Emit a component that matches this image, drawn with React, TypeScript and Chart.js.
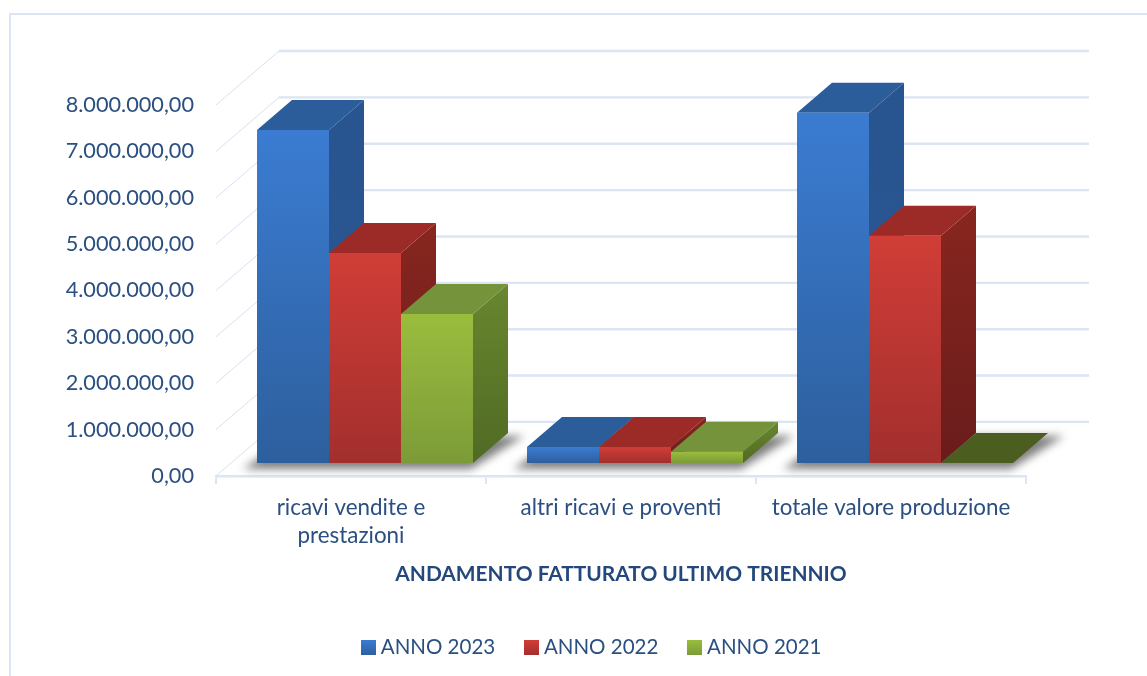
import React, { useEffect, useRef } from "react";
import { Chart, registerables } from "chart.js";

Chart.register(...registerables);

const categories = [["ricavi vendite e", "prestazioni"], "altri ricavi e proventi", "totale valore produzione"];
const seriesNames = ["ANNO 2023", "ANNO 2022", "ANNO 2021"];
const anno2023 = [7180000, 345000, 7550000];
const anno2022 = [4530000, 345000, 4900000];
const anno2021 = [3210000, 240000, 0];
const seriesValues = [anno2023, anno2022, anno2021];

const frontColors = [["#3b7cd2", "#2d5f9d"], ["#d13d37", "#a22f2d"], ["#9abd3e", "#7c9b38"]];
const sideColors = [["#28548f", "#2a5793"], ["#88261f", "#691c1b"], ["#68872f", "#506a24"]];
const topColors = ["#2c5d9b", "#9c2b27", "#75933a"];
const flatColors = ["#2c5d9b", "#9c2b27", "#4b5e20"];

const TEXT = "#2a4f80";
const LINE = "#dbe5f3";
const WALL_DX = 63;
const WALL_DY = 54;
const BAR_DX = 35;
const BAR_DY = 30;
const BAR_SHIFT_X = 14;
const BAR_SHIFT_Y = 13;
const LEGEND_LEFT = 161;

function legendSwatch(colors: string[]) {
  const c = document.createElement("canvas");
  c.width = 15;
  c.height = 15;
  const g = c.getContext("2d")!;
  const grad = g.createLinearGradient(0, 0, 0, 15);
  grad.addColorStop(0, colors[0]);
  grad.addColorStop(1, colors[1]);
  g.fillStyle = grad;
  g.fillRect(0, 0, 15, 15);
  return c;
}

function drawBarFaces(chart: any, di: number) {
  const { ctx } = chart;
  chart.getDatasetMeta(di).data.forEach((bar: any) => {
    const l = bar.x - bar.width / 2;
    const r = bar.x + bar.width / 2;
    const t = bar.y;
    const b = bar.base;
    if (b - t > 0.5) {
      const grad = ctx.createLinearGradient(0, t - BAR_DY, 0, b);
      grad.addColorStop(0, sideColors[di][0]);
      grad.addColorStop(1, sideColors[di][1]);
      ctx.fillStyle = grad;
      ctx.beginPath();
      ctx.moveTo(r, t);
      ctx.lineTo(r + BAR_DX, t - BAR_DY);
      ctx.lineTo(r + BAR_DX, b - BAR_DY);
      ctx.lineTo(r, b);
      ctx.closePath();
      ctx.fill();
    }
    ctx.fillStyle = b - t > 0.5 ? topColors[di] : flatColors[di];
    ctx.beginPath();
    ctx.moveTo(l, t);
    ctx.lineTo(l + BAR_DX, t - BAR_DY);
    ctx.lineTo(r + BAR_DX, t - BAR_DY);
    ctx.lineTo(r, t);
    ctx.closePath();
    ctx.fill();
  });
}

const scene3d = {
  id: "scene3d",
  afterLayout(chart: any) {
    // the legend is centred under the whole picture's content, not under the plot
    if (chart.legend) chart.legend.left = LEGEND_LEFT;
  },
  beforeDraw(chart: any) {
    const { ctx, width, height } = chart;
    ctx.save();
    ctx.fillStyle = "#fff";
    ctx.fillRect(0, 0, width, height);
    ctx.strokeStyle = LINE;
    ctx.lineWidth = 2;
    ctx.beginPath();
    ctx.moveTo(10, height);
    ctx.lineTo(10, 14);
    ctx.lineTo(width, 14);
    ctx.stroke();
    ctx.restore();
  },
  beforeDatasetsDraw(chart: any) {
    const { ctx, chartArea, scales } = chart;
    ctx.save();
    for (const t of scales.y.ticks) {
      const y = scales.y.getPixelForValue(t.value);
      ctx.strokeStyle = "#d7e2f1";
      ctx.lineWidth = 1;
      ctx.beginPath();
      ctx.moveTo(chartArea.left, y);
      ctx.lineTo(chartArea.left + WALL_DX, y - WALL_DY);
      ctx.stroke();
      ctx.strokeStyle = LINE;
      ctx.lineWidth = 2.4;
      ctx.beginPath();
      ctx.moveTo(chartArea.left + WALL_DX, y - WALL_DY);
      ctx.lineTo(chartArea.right + WALL_DX, y - WALL_DY);
      ctx.stroke();
    }
    ctx.restore();

    ctx.save();
    ctx.translate(BAR_SHIFT_X, -BAR_SHIFT_Y);
    const first = chart.getDatasetMeta(0).data;
    const last = chart.getDatasetMeta(seriesValues.length - 1).data;
    ctx.save();
    ctx.filter = "blur(4px)";
    ctx.fillStyle = "rgba(95,95,95,0.8)";
    first.forEach((bar: any, i: number) => {
      const l = bar.x - bar.width / 2;
      const r = last[i].x + last[i].width / 2;
      const b = bar.base;
      ctx.beginPath();
      ctx.moveTo(l - 14, b + 6);
      ctx.lineTo(r - 2, b + 6);
      ctx.lineTo(r + BAR_DX + 16, b - BAR_DY + 3);
      ctx.lineTo(l + BAR_DX, b - BAR_DY + 3);
      ctx.closePath();
      ctx.fill();
    });
    ctx.restore();

    // left-to-right painter's order: each bar hides the side of the one before it
    seriesValues.forEach((_, di) => {
      drawBarFaces(chart, di);
      chart.getDatasetMeta(di).controller.draw();
    });
    ctx.restore();
    return false;
  },
};

export default function App() {
  const ref = useRef<HTMLCanvasElement>(null);
  useEffect(() => {
    document.body.style.margin = "0";
    const chart = new Chart(ref.current!, {
      type: "bar",
      data: {
        labels: categories as any,
        datasets: seriesNames.map((name, di) => ({
          label: name,
          data: seriesValues[di],
          borderWidth: 0,
          categoryPercentage: 0.8,
          barPercentage: 1,
          backgroundColor: (c: any) => {
            if (c.type !== "data" || !c.chart.chartArea) return frontColors[di][0];
            const y = c.chart.scales.y;
            const grad = c.chart.ctx.createLinearGradient(0, y.getPixelForValue(c.raw), 0, y.getPixelForValue(0));
            grad.addColorStop(0, frontColors[di][0]);
            grad.addColorStop(1, frontColors[di][1]);
            return grad;
          },
        })),
      },
      options: {
        responsive: false,
        animation: false,
        layout: { padding: { left: 0, right: 121, top: 105, bottom: 10 } },
        plugins: {
          tooltip: { enabled: false },
          title: {
            display: true,
            position: "bottom",
            fullSize: false,
            weight: 1000,
            text: "ANDAMENTO FATTURATO ULTIMO TRIENNIO",
            color: "#24487c",
            font: { family: "Lato", size: 20.9, weight: "bold" },
            padding: { top: 5.5, bottom: 17.5 },
          },
          legend: {
            position: "bottom",
            weight: 3000,
            maxHeight: 62,
            labels: {
              color: TEXT,
              font: { family: "Lato", size: 20.5 },
              usePointStyle: true,
              pointStyleWidth: 5,
              boxHeight: 15,
              padding: 33.5,
              generateLabels: () =>
                seriesNames.map((name, di) => ({
                  text: name,
                  datasetIndex: di,
                  fontColor: TEXT,
                  pointStyle: legendSwatch(frontColors[di]),
                  lineWidth: 0,
                })),
            },
          },
        } as any,
        scales: {
          x: {
            offset: true,
            border: { color: LINE, width: 2.4 },
            grid: { drawOnChartArea: false, color: LINE, lineWidth: 2, tickLength: 8, offset: true },
            ticks: {
              color: TEXT,
              font: { family: "Lato", size: 22.4, lineHeight: 1.25 },
              padding: 10,
              maxRotation: 0,
              autoSkip: false,
            },
            afterFit: (s: any) => { s.height = 80; },
          },
          y: {
            min: 0,
            max: 8000000,
            border: { display: false },
            grid: { display: false },
            ticks: {
              stepSize: 1000000,
              color: TEXT,
              padding: 14,
              font: { family: "Lato", size: 21.7 },
              callback: (v: any) =>
                Number(v).toLocaleString("it-IT", { minimumFractionDigits: 2, maximumFractionDigits: 2, useGrouping: "always" } as any),
            },
            afterFit: (s: any) => { s.width = 216; },
          },
        },
      },
      plugins: [scene3d],
    } as any);
    return () => chart.destroy();
  }, []);
  return <canvas ref={ref} width={1147} height={676} style={{ display: "block" }} />;
}
